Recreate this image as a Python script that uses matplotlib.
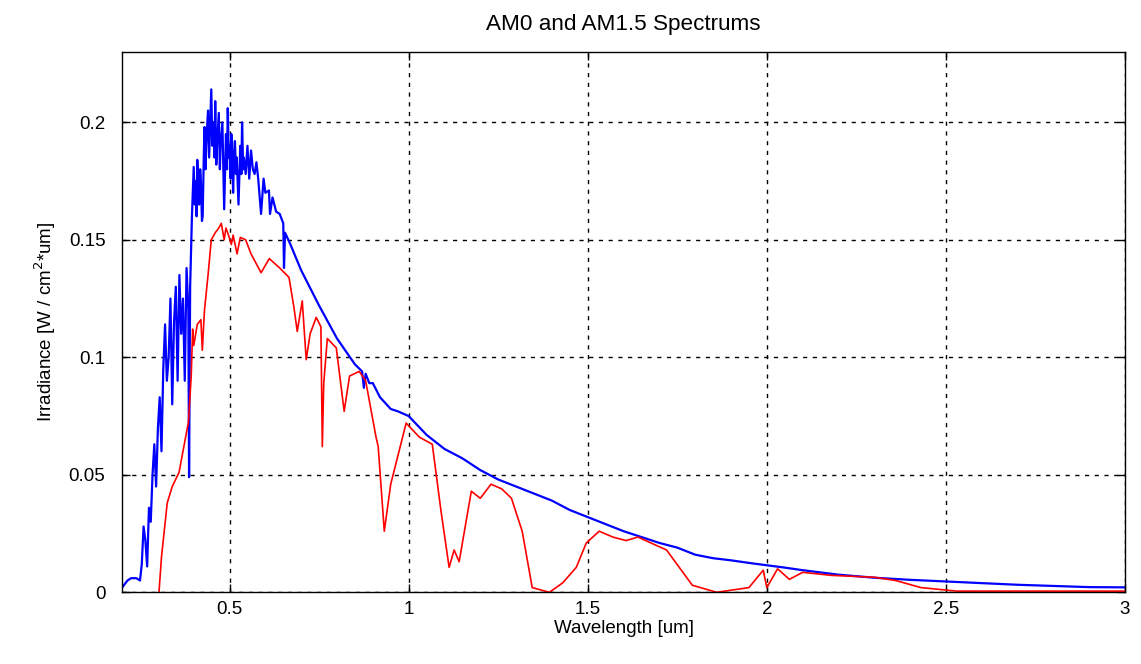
import matplotlib
matplotlib.use("Agg")
import matplotlib.pyplot as plt
from matplotlib.ticker import FuncFormatter

# ============================================================
# DATA
# ============================================================
am0_wl = [0.20, 0.215, 0.225, 0.24, 0.25, 0.255, 0.26, 0.265, 0.27, 0.275,
          0.28, 0.285, 0.29, 0.295, 0.30, 0.305, 0.31, 0.315, 0.32, 0.325,
          0.33, 0.335, 0.34, 0.345, 0.35, 0.355, 0.36, 0.365, 0.37, 0.375,
          0.38, 0.385, 0.387, 0.39, 0.395, 0.40, 0.403, 0.405, 0.408, 0.41,
          0.413, 0.415, 0.418, 0.42, 0.423, 0.425, 0.428, 0.43, 0.433, 0.435,
          0.438, 0.44, 0.443, 0.445, 0.449, 0.452, 0.455, 0.458, 0.46, 0.463,
          0.465, 0.468, 0.47, 0.473, 0.475, 0.478, 0.48, 0.485, 0.49, 0.493,
          0.495, 0.498, 0.50, 0.503, 0.505, 0.508, 0.51, 0.513, 0.515, 0.518,
          0.52, 0.525, 0.53, 0.533, 0.535, 0.538, 0.54, 0.545, 0.55, 0.555,
          0.56, 0.565, 0.57, 0.575, 0.58, 0.588, 0.595, 0.60, 0.61, 0.613,
          0.62, 0.63, 0.64, 0.65, 0.652, 0.655, 0.67, 0.70, 0.75, 0.80,
          0.85, 0.87, 0.875, 0.88, 0.89, 0.90, 0.92, 0.95, 0.97, 1.00,
          1.05, 1.10, 1.15, 1.20, 1.25, 1.30, 1.35, 1.40, 1.45, 1.50,
          1.55, 1.60, 1.65, 1.70, 1.75, 1.80, 1.85, 1.90, 1.95, 2.00,
          2.05, 2.10, 2.20, 2.30, 2.40, 2.50, 2.60, 2.70, 2.80, 2.90, 3.00]
am0_irr = [0.002, 0.005, 0.006, 0.006, 0.005, 0.012, 0.028, 0.022, 0.011, 0.036,
           0.030, 0.050, 0.063, 0.045, 0.070, 0.083, 0.060, 0.095, 0.114, 0.090,
           0.100, 0.125, 0.080, 0.115, 0.130, 0.090, 0.135, 0.110, 0.125, 0.090,
           0.138, 0.120, 0.049, 0.130, 0.160, 0.181, 0.165, 0.175, 0.160, 0.184,
           0.170, 0.165, 0.180, 0.175, 0.158, 0.160, 0.185, 0.198, 0.180, 0.190,
           0.200, 0.205, 0.185, 0.195, 0.214, 0.190, 0.200, 0.185, 0.209, 0.182,
           0.190, 0.198, 0.204, 0.180, 0.190, 0.196, 0.200, 0.163, 0.195, 0.180,
           0.206, 0.185, 0.190, 0.176, 0.195, 0.182, 0.170, 0.188, 0.192, 0.178,
           0.185, 0.165, 0.190, 0.178, 0.200, 0.180, 0.185, 0.178, 0.190, 0.176,
           0.188, 0.180, 0.178, 0.183, 0.176, 0.161, 0.176, 0.170, 0.171, 0.161,
           0.168, 0.162, 0.161, 0.157, 0.138, 0.153, 0.148, 0.137, 0.122, 0.108,
           0.097, 0.094, 0.087, 0.093, 0.089, 0.089, 0.083, 0.078, 0.077, 0.075,
           0.067, 0.061, 0.057, 0.052, 0.048, 0.045, 0.042, 0.039, 0.035, 0.032,
           0.029, 0.026, 0.0235, 0.021, 0.019, 0.016, 0.0145, 0.0136, 0.0125, 0.0115,
           0.0105, 0.0094, 0.0075, 0.0062, 0.0053, 0.0046, 0.0039, 0.0032, 0.0027, 0.0022, 0.0021]

am15_wl = [0.303, 0.31, 0.326, 0.34, 0.359, 0.37, 0.381, 0.385, 0.393, 0.397,
           0.40, 0.41, 0.42, 0.424, 0.43, 0.44, 0.449, 0.46, 0.47, 0.477,
           0.485, 0.49, 0.497, 0.505, 0.51, 0.521, 0.53, 0.545, 0.56, 0.588,
           0.611, 0.64, 0.666, 0.68, 0.689, 0.703, 0.714, 0.725, 0.742, 0.755,
           0.759, 0.763, 0.773, 0.798, 0.82, 0.835, 0.862, 0.88, 0.909, 0.915,
           0.932, 0.95, 0.993, 1.03, 1.066, 1.09, 1.113, 1.127, 1.141, 1.175,
           1.20, 1.23, 1.26, 1.287, 1.317, 1.345, 1.393, 1.43, 1.468, 1.496,
           1.532, 1.57, 1.607, 1.64, 1.72, 1.792, 1.86, 1.95, 1.99, 2.0,
           2.03, 2.063, 2.10, 2.18, 2.30, 2.36, 2.43, 2.53, 3.0]
am15_irr = [0.0, 0.015, 0.038, 0.045, 0.051, 0.060, 0.069, 0.072, 0.092, 0.112,
            0.105, 0.114, 0.116, 0.103, 0.120, 0.135, 0.150, 0.153, 0.155, 0.157,
            0.150, 0.155, 0.152, 0.148, 0.152, 0.144, 0.151, 0.150, 0.144, 0.136,
            0.142, 0.138, 0.134, 0.121, 0.111, 0.124, 0.099, 0.110, 0.117, 0.113,
            0.062, 0.089, 0.108, 0.104, 0.077, 0.092, 0.094, 0.090, 0.066, 0.062,
            0.026, 0.046, 0.072, 0.066, 0.063, 0.035, 0.0106, 0.018, 0.013, 0.043,
            0.040, 0.046, 0.044, 0.040, 0.026, 0.002, 0.0, 0.004, 0.0106, 0.021,
            0.026, 0.0235, 0.022, 0.0235, 0.018, 0.003, 0.0, 0.002, 0.0094, 0.002,
            0.010, 0.0055, 0.0085, 0.0072, 0.0064, 0.005, 0.002, 0.0005, 0.0005]

x_ticks = [0.5, 1, 1.5, 2, 2.5, 3]
y_ticks = [0, 0.05, 0.1, 0.15, 0.2]

# ============================================================
# PLOT
# ============================================================
plt.rcParams.update({
    "font.family": ["Liberation Sans", "DejaVu Sans"],
    "font.size": 13.5,
})

fig = plt.figure(figsize=(11.41, 6.64), dpi=100)
ax = fig.add_axes([0.107, 0.108, 0.879, 0.814])

ax.plot(am0_wl, am0_irr, color="#0000ff", linewidth=1.6)
ax.plot(am15_wl, am15_irr, color="#ff0000", linewidth=1.2)

ax.set_xlim(0.2, 3)
ax.set_ylim(0, 0.23)
ax.set_xticks(x_ticks)
ax.set_yticks(y_ticks)
fmt = FuncFormatter(lambda v, p: "%g" % v)
ax.xaxis.set_major_formatter(fmt)
ax.yaxis.set_major_formatter(fmt)

ax.grid(True, color="black", linestyle=(0, (3, 4)), linewidth=1.0)
ax.tick_params(direction="in", top=True, right=True, length=6, width=1)
ax.tick_params(axis="y", pad=12)
ax.tick_params(axis="x", pad=6)
for s in ax.spines.values():
    s.set_linewidth(1.0)

ax.set_title("AM0 and AM1.5 Spectrums", pad=16)
ax.set_xlabel("Wavelength [um]", labelpad=2)
ax.set_ylabel("Irradiance [W / cm$^2$*um]", labelpad=8)

plt.savefig("out.png", dpi=100)
plt.close()
